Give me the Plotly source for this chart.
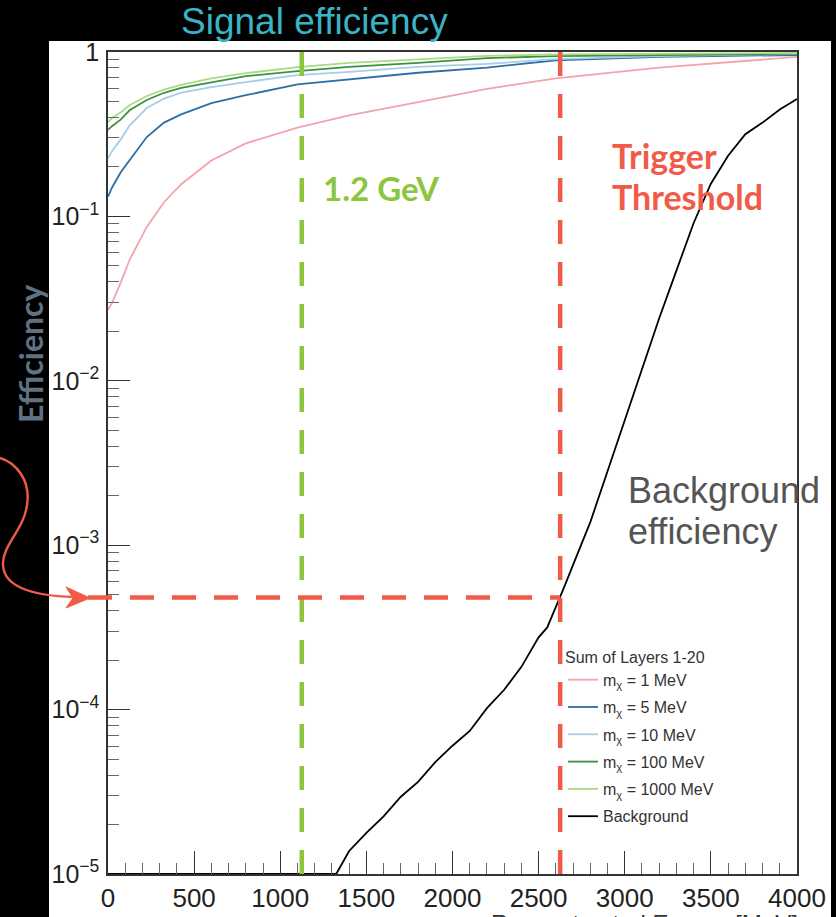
import plotly.graph_objects as go

# ---------------- data ----------------
threshold_mev = [0, 25, 75, 125, 225, 325, 425, 600, 800, 1100, 1400, 1800, 2200, 2600, 3200, 4000]

eff_1mev = [0.027, 0.0300, 0.0398, 0.0543, 0.0863, 0.122, 0.157, 0.219, 0.278, 0.347, 0.411, 0.495, 0.596, 0.692, 0.804, 0.933]
eff_5mev = [0.132, 0.151, 0.186, 0.219, 0.304, 0.372, 0.417, 0.488, 0.546, 0.635, 0.679, 0.748, 0.804, 0.891, 0.933, 0.959]
eff_10mev = [0.226, 0.251, 0.295, 0.357, 0.456, 0.520, 0.566, 0.611, 0.656, 0.723, 0.757, 0.813, 0.847, 0.904, 0.944, 0.973]
eff_100mev = [0.336, 0.355, 0.389, 0.442, 0.511, 0.565, 0.605, 0.656, 0.713, 0.764, 0.813, 0.859, 0.918, 0.944, 0.959, 0.977]
eff_1000mev = [0.375, 0.398, 0.430, 0.474, 0.540, 0.590, 0.631, 0.692, 0.743, 0.809, 0.859, 0.906, 0.946, 0.966, 0.977, 0.986]

bg_threshold_mev = [0, 1300, 1325, 1400, 1500, 1600, 1700, 1800, 1900, 2000, 2100, 2200, 2300, 2400,
                    2500, 2550, 2600, 2650, 2700, 2800, 2900, 3000, 3100, 3200, 3300, 3400, 3500,
                    3600, 3700, 3800, 3900, 4000]
eff_background = [1.0e-5, 1.0e-5, 1.0e-5, 1.38e-5, 1.78e-5, 2.24e-5, 2.95e-5, 3.63e-5, 4.79e-5, 6.03e-5,
                  7.41e-5, 1.02e-4, 1.32e-4, 1.82e-4, 2.75e-4, 3.16e-4, 4.17e-4, 5.62e-4, 7.59e-4,
                  1.38e-3, 2.82e-3, 5.75e-3, 1.17e-2, 2.40e-2, 4.68e-2, 9.12e-2, 0.158, 0.234, 0.316,
                  0.372, 0.447, 0.518]

series_names = ["m<sub>χ</sub> = 1 MeV", "m<sub>χ</sub> = 5 MeV", "m<sub>χ</sub> = 10 MeV",
                "m<sub>χ</sub> = 100 MeV", "m<sub>χ</sub> = 1000 MeV"]
series_values = [eff_1mev, eff_5mev, eff_10mev, eff_100mev, eff_1000mev]
series_colors = ["#f2a3ad", "#2d6ea6", "#a9cde6", "#3f9142", "#a9dc80"]

x_ticks = [0, 500, 1000, 1500, 2000, 2500, 3000, 3500, 4000]
signal_cut_mev = 1125        # green "1.2 GeV" line
trigger_threshold_mev = 2625  # red vertical line
trigger_bg_eff = 4.8e-4       # red horizontal line

X_MAX = 4000

# ---------------- layout geometry ----------------
W, H = 836, 917
L, R, T, B = 108, 797, 52, 874
PW, PH = R - L, B - T


def px(x):
    return (x - L) / PW


def py(y):
    return (B - y) / PH


RED = "#f25a48"
GREEN = "#8cc63f"
SANS = "Liberation Sans, Arial"

fig = go.Figure()

for name, vals, col in zip(series_names, series_values, series_colors):
    fig.add_trace(go.Scatter(x=threshold_mev, y=vals, mode="lines", name=name,
                             legendgroup=name, line=dict(color=col, width=1.8)))

fig.add_trace(go.Scatter(x=bg_threshold_mev, y=eff_background, mode="lines", name="Background",
                         legendgroup="bg", line=dict(color="black", width=1.8)))

shapes = [
    # white panel on black page
    dict(type="rect", xref="paper", yref="paper", x0=px(49), x1=px(831), y0=py(930), y1=py(41),
         fillcolor="white", line=dict(width=0), layer="below"),
    # green vertical dashed
    dict(type="line", xref="x", yref="paper", x0=signal_cut_mev, x1=signal_cut_mev, y0=1, y1=0,
         line=dict(color=GREEN, width=4.5, dash="24px,18px")),
    # red vertical dashed
    dict(type="line", xref="x", yref="paper", x0=trigger_threshold_mev, x1=trigger_threshold_mev,
         y0=1, y1=0, line=dict(color=RED, width=4.5, dash="24px,18px")),
    # red horizontal dashed
    dict(type="line", xref="paper", yref="y", x0=px(88), x1=trigger_threshold_mev / X_MAX,
         y0=trigger_bg_eff, y1=trigger_bg_eff, line=dict(color=RED, width=4.5, dash="24px,18px")),
]


# curvy arrow (decoration) in pixel coords -> paper
def P(x, y):
    return f"{px(x):.5f},{py(y):.5f}"


arrow_path = (f"M{P(0,458)} C{P(16,463)} {P(31,480)} {P(27,505)} "
              f"C{P(24,530)} {P(2,545)} {P(3,565)} "
              f"C{P(4,590)} {P(40,596)} {P(74,597)}")
shapes.append(dict(type="path", xref="paper", yref="paper", path=arrow_path,
                   line=dict(color=RED, width=2.4)))
head_path = f"M{P(90,598)} L{P(66,587)} L{P(73,598)} L{P(66,608)} Z"
shapes.append(dict(type="path", xref="paper", yref="paper", path=head_path,
                   fillcolor=RED, line=dict(color=RED, width=1)))

annotations = [
    dict(text="Signal efficiency", xref="paper", yref="paper", x=px(314), y=py(21),
         xanchor="center", yanchor="middle", showarrow=False,
         font=dict(family=SANS, size=37, color="#3ab3c4")),
    dict(text="<b>Efficiency</b>", xref="paper", yref="paper", x=px(30), y=py(354),
         xanchor="center", yanchor="middle", showarrow=False, textangle=-90,
         font=dict(family="Lato", size=32, color="#5f7284")),
    dict(text="<b>1.2 GeV</b>", xref="paper", yref="paper", x=px(321), y=py(188),
         xanchor="left", yanchor="middle", showarrow=False,
         font=dict(family="Lato", size=33, color=GREEN)),
    dict(text="<b>Trigger</b>", xref="paper", yref="paper", x=px(610), y=py(156),
         xanchor="left", yanchor="middle", showarrow=False,
         font=dict(family="Lato", size=34, color=RED)),
    dict(text="<b>Threshold</b>", xref="paper", yref="paper", x=px(610), y=py(197),
         xanchor="left", yanchor="middle", showarrow=False,
         font=dict(family="Lato", size=34, color=RED)),
    dict(text="Background", xref="paper", yref="paper", x=px(626), y=py(490),
         xanchor="left", yanchor="middle", showarrow=False,
         font=dict(family=SANS, size=36, color="#555555")),
    dict(text="efficiency", xref="paper", yref="paper", x=px(626), y=py(531),
         xanchor="left", yanchor="middle", showarrow=False,
         font=dict(family=SANS, size=36, color="#555555")),
    dict(text="Reconstructed Energy [MeV]", xref="paper", yref="paper", x=px(800), y=py(908),
         xanchor="right", yanchor="top", showarrow=False,
         font=dict(family=SANS, size=24, color="#333333")),
]

fig.update_layout(
    template="none",
    width=W, height=H,
    margin=dict(l=L, r=W - R, t=T, b=H - B, pad=0, autoexpand=False),
    paper_bgcolor="black", plot_bgcolor="white",
    shapes=shapes, annotations=annotations,
    showlegend=True,
    legend=dict(x=px(563), y=py(642), xanchor="left", yanchor="top",
                bgcolor="rgba(0,0,0,0)", borderwidth=0,
                traceorder="grouped", tracegroupgap=3.5,
                title=dict(text="Sum of Layers 1-20", font=dict(family=SANS, size=16, color="#333")),
                font=dict(family=SANS, size=16, color="#333")),
)

fig.update_xaxes(range=[0, X_MAX], tickvals=x_ticks, ticktext=[str(v) for v in x_ticks],
                 automargin=False,
                 ticks="inside", ticklen=23, tickwidth=1.3, tickcolor="#333",
                 minor=dict(dtick=100, ticks="inside", ticklen=11, tickcolor="#666", tickwidth=1),
                 showline=True, linecolor="#333", linewidth=1.5, mirror=True,
                 showgrid=False, zeroline=False, ticklabelstandoff=0,
                 tickfont=dict(family=SANS, size=26, color="#222"))

fig.update_yaxes(type="log", range=[-5, 0], dtick=1, exponentformat="power",
                 automargin=False,
                 ticks="inside", ticklen=22, tickwidth=1.3, tickcolor="#333",
                 minor=dict(dtick="D1", ticks="inside", ticklen=11, tickcolor="#666", tickwidth=1),
                 showline=True, linecolor="#333", linewidth=1.5, mirror=True,
                 showgrid=False, zeroline=False, ticklabelstandoff=3,
                 tickfont=dict(family=SANS, size=20, color="#222"))

fig.write_html("out.html")
